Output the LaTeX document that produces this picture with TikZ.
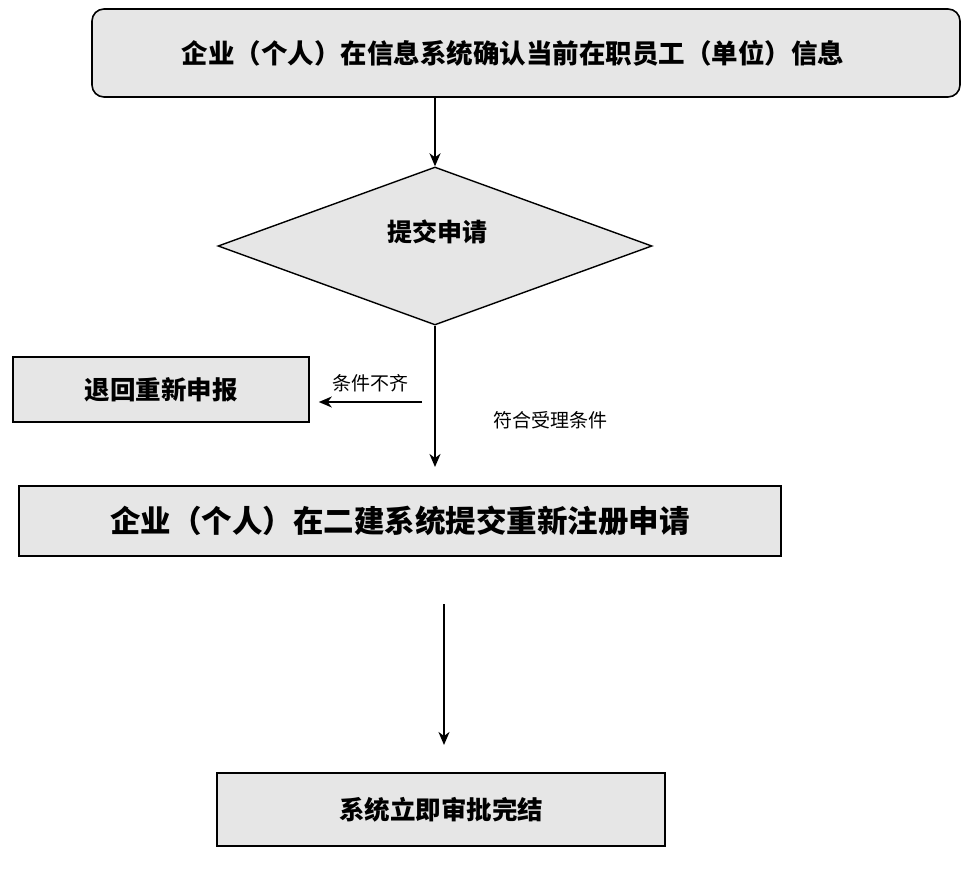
\documentclass[tikz,border=0pt]{standalone}
\usepackage{fontspec}
\setmainfont{Noto Sans CJK SC}
\newfontfamily\cjk{Noto Sans CJK SC}
\usetikzlibrary{arrows.meta,shapes.geometric}
\definecolor{boxgray}{HTML}{E6E6E6}
\tikzset{
    stepbox/.style={draw=black,line width=1.6pt,fill=boxgray,inner sep=0pt,font=\cjk\bfseries},
    decision/.style={stepbox,diamond,line width=1.4pt},
    flow/.style={black,-{Stealth[length=13pt,width=11pt,inset=4pt]},line width=1.8pt},
    note/.style={font=\cjk\fontsize{19}{19}\selectfont,inner sep=0pt}
}
\begin{document}
\begin{tikzpicture}[x=1pt,y=-1pt]
\useasboundingbox[fill=white](0,0)rectangle(980,880);
\node[stepbox,rounded corners=12pt,minimum width=868pt,minimum height=88pt,font=\cjk\bfseries\fontsize{26.5}{26.5}\selectfont](confirm)at(526,53){\kern-26pt 企业（个人）在信息系统确认当前在职员工（单位）信息};
\node[decision,minimum width=434pt,minimum height=158pt](submit)at(435,246){};
\node[font=\cjk\bfseries\fontsize{25}{25}\selectfont,inner sep=0pt](submittext)at(437,232){提交申请};
\node[stepbox,minimum width=296pt,minimum height=65pt,font=\cjk\bfseries\fontsize{25.5}{25.5}\selectfont](back)at(161,389.5){退回重新申报};
\node[stepbox,minimum width=762pt,minimum height=70pt,font=\cjk\bfseries\fontsize{30.5}{30.5}\selectfont](register)at(400,521){企业（个人）在二建系统提交重新注册申请};
\node[stepbox,minimum width=448pt,minimum height=73pt,font=\cjk\bfseries\fontsize{25.5}{25.5}\selectfont](done)at(441,809.5){系统立即审批完结};

\coordinate(split)at(422,402);
\coordinate(regin)at(435,467);
\coordinate(gapstart)at(444,604);
\coordinate(donein)at(444,745);

\draw[flow](confirm.south-|submit.north)--(submit.north);
\draw[flow](submit.south)--(regin);
\draw[flow](split)--([xshift=9pt]back.east|-split)node[note,midway,above=9pt]{条件不齐};
\node[note](okay)at(550,420){符合受理条件};
\draw[flow](gapstart)--(donein);
\end{tikzpicture}
\end{document}
